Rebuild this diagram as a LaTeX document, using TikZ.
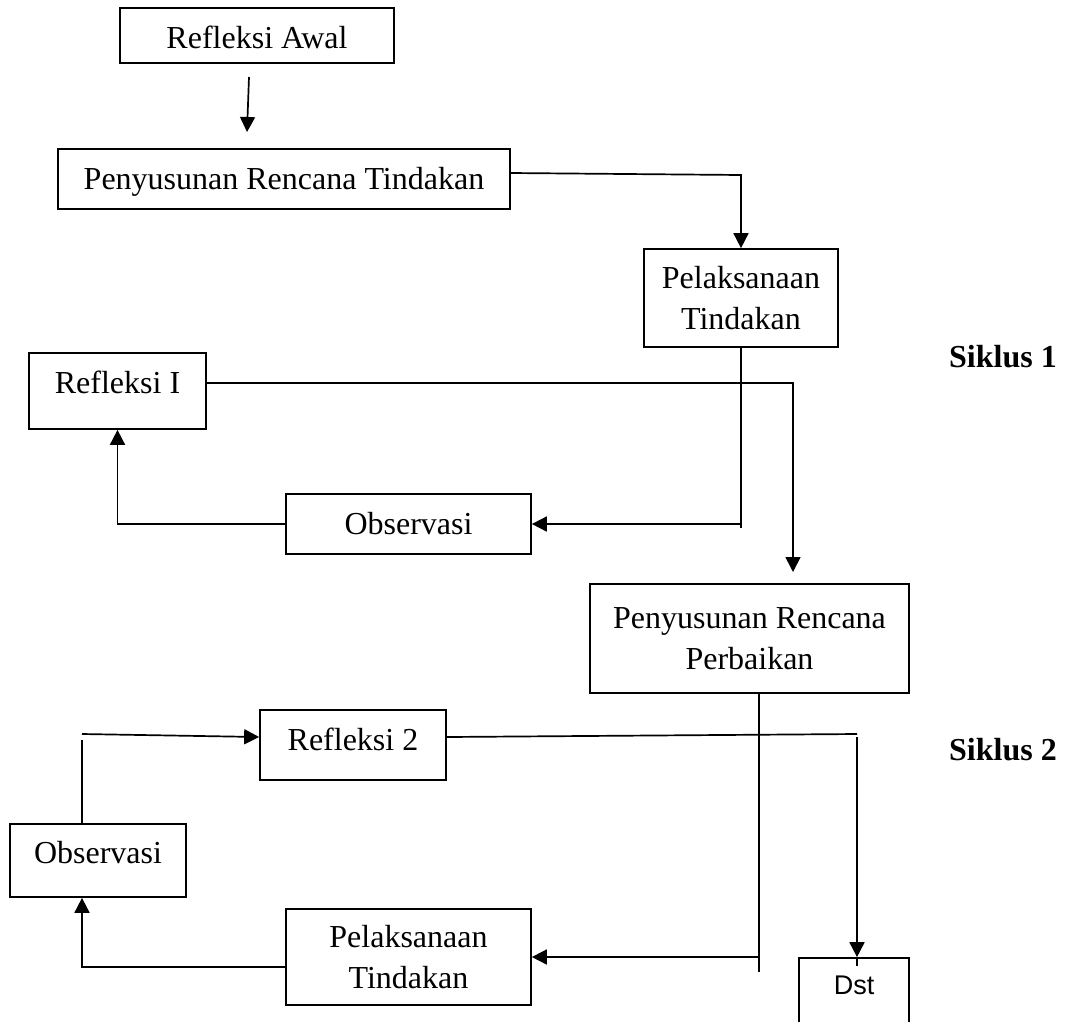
\documentclass[tikz,border=0pt]{standalone}
\usepackage{fontspec}
\setmainfont{Liberation Serif}
\newfontfamily\arialfont{Liberation Sans}
\usetikzlibrary{arrows.meta}
\begin{document}
\begin{tikzpicture}[x=1pt,y=-1pt,
  box/.style={draw,line width=1.7pt,inner sep=0pt,font=\fontsize{32}{41}\selectfont},
  conn/.style={line width=1.7pt},
  arr/.style={conn,-{Triangle[length=15pt,width=15pt]}},
  cyc/.style={inner sep=0pt,font=\fontsize{32}{38}\selectfont\bfseries,text height=21pt,text depth=0.4pt}
]
\useasboundingbox (0,0) rectangle (1065,1021);
\fill[white] (0,0) rectangle (1065,1021);

% boxes
\node[box,minimum width=274pt,minimum height=55pt,text height=26pt,text depth=0pt] (awal) at (257,35.5) {Refleksi Awal};
\node[box,minimum width=452pt,minimum height=60pt,text height=21pt,text depth=0.4pt] (rtind) at (284,179) {Penyusunan Rencana Tindakan};
\node[box,align=center,minimum width=194pt,minimum height=98pt] (pel1) at (741,298) {Pelaksanaan\\Tindakan};
\node[box,minimum width=177pt,minimum height=76pt,text height=21pt,text depth=16.4pt] (ref1) at (117.5,391) {Refleksi I};
\node[box,minimum width=245pt,minimum height=60pt,text height=21pt,text depth=0.4pt] (obs1) at (408.5,524) {Observasi};
\node[box,align=center,minimum width=319pt,minimum height=109pt] (perb) at (749.5,638.5) {Penyusunan Rencana\\Perbaikan};
\node[box,minimum width=186pt,minimum height=70pt,text height=21pt,text depth=10.4pt] (ref2) at (353,745) {Refleksi 2};
\node[box,minimum width=176pt,minimum height=73pt,text height=21pt,text depth=15.4pt] (obs2) at (98,860.5) {Observasi};
\node[box,align=center,minimum width=245pt,minimum height=96pt] (pel2) at (408.5,957) {Pelaksanaan\\Tindakan};
\node[box,font=\arialfont\fontsize{27}{30}\selectfont,minimum width=110pt,minimum height=82pt,text height=19pt,text depth=29pt] (dst) at (854,999) {Dst};

\node[cyc] (s1) at (1003,357) {Siklus 1};
\node[cyc] (s2) at (1003,750) {Siklus 2};

% connectors
\coordinate (a1) at (249,77);
\coordinate (a2) at (247,132);
\draw[arr] (a1) -- (a2);

\coordinate (b1) at (741,175);
\draw[arr] ([yshift=6pt]rtind.east) -- (b1) -- (pel1.north);

\coordinate (c1) at (741,528);
\draw[conn] (pel1.south) -- (c1);
\draw[arr] (c1 |- obs1.east) -- (obs1.east);

\draw[arr] (obs1.west) -- (ref1.south |- obs1.west) -- (ref1.south);

\coordinate (e1) at (793,383);
\coordinate (e2) at (793,572);
\draw[arr] ([yshift=8pt]ref1.east) -- (e1) -- (e2);

\coordinate (f1) at (759,972);
\draw[conn] (f1 |- perb.south) -- (f1);
\draw[arr] (f1 |- pel2.east) -- (pel2.east);

\coordinate (g1) at (82,967);
\draw[arr] (pel2.west |- g1) -- (g1) -- (g1 |- obs2.south);

\coordinate (h1) at (82,740);
\draw[conn] (h1 |- obs2.north) -- (h1);
\coordinate (h2) at (82,734);
\draw[arr] (h2) -- ([yshift=8pt]ref2.west);

\coordinate (i1) at (857,734);
\coordinate (i2) at (857,737);
\draw[conn] ([yshift=8pt]ref2.east) -- (i1);
\draw[arr] (i2) -- (i2 |- dst.north);
\draw[conn] (i2 |- dst.north) -- ++(0,9);
\end{tikzpicture}
\end{document}
